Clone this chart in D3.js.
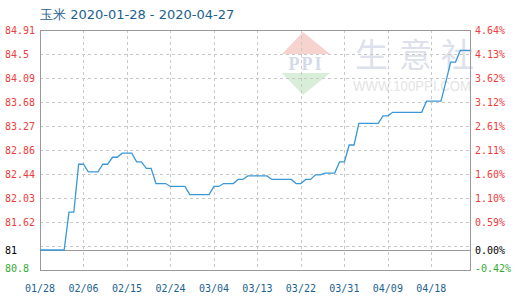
<!DOCTYPE html>
<html>
<head>
<meta charset="utf-8">
<script src="https://cdn.jsdelivr.net/npm/d3@7"></script>
<style>
  body { margin: 0; background: #fff; }
  svg { display: block; }
</style>
</head>
<body>
<script>
// chart data
var title = "玉米 2020-01-28 - 2020-04-27";
var xLabels = ["01/28", "02/06", "02/15", "02/24", "03/04", "03/13", "03/22", "03/31", "04/09", "04/18"];
var prices = [
    81, 81, 81, 81, 81, 81, 81.79, 81.79, 82.61, 82.61,
    82.48, 82.48, 82.48, 82.61, 82.61, 82.73, 82.73, 82.80, 82.80, 82.80,
    82.65, 82.65, 82.54, 82.54, 82.28, 82.28, 82.28, 82.23, 82.23, 82.23,
    82.23, 82.09, 82.09, 82.09, 82.09, 82.09, 82.23, 82.23, 82.28, 82.28,
    82.28, 82.35, 82.35, 82.41, 82.41, 82.41, 82.41, 82.41, 82.35, 82.35,
    82.35, 82.35, 82.35, 82.28, 82.28, 82.35, 82.35, 82.43, 82.43, 82.46,
    82.46, 82.46, 82.65, 82.65, 82.94, 82.94, 83.31, 83.31, 83.31, 83.31,
    83.31, 83.44, 83.44, 83.50, 83.50, 83.50, 83.50, 83.50, 83.50, 83.50,
    83.69, 83.69, 83.69, 83.69, 84.02, 84.36, 84.36, 84.56, 84.56, 84.56
];
var leftTicks = [84.91, 84.5, 84.09, 83.68, 83.27, 82.86, 82.44, 82.03, 81.62, 81, 80.8];
var rightTicks = ["4.64%", "4.13%", "3.62%", "3.12%", "2.61%", "2.11%", "1.60%", "1.10%", "0.59%", "0.00%", "-0.42%"];
var gridValues = [84.91, 84.5, 84.09, 83.68, 83.27, 82.86, 82.44, 82.03, 81.62, 81.21];
var baseValue = 81;

var width = 520,
    height = 300,
    plotLeft = 40, plotRight = 470, plotTop = 30, plotBottom = 270;

var svg = d3.select("body")
    .append("svg")
    .attr("width", width)
    .attr("height", height);

var x = d3.scaleLinear()
    .domain([0, prices.length - 1])
    .range([plotLeft, plotRight]);

// the axis is not linear below the grid: base value sits just under the last grid line
var y = d3.scaleLinear()
    .domain([80.8, 81, 81.21, 84.91])
    .range([plotBottom, 250, 246, plotTop]);

// watermark
var wm = svg.append("g").attr("class", "watermark");
wm.append("path")
    .attr("d", "M303,32 L330,54 L282,54 Z")
    .attr("fill", "#f6d3cf");
wm.append("path")
    .attr("d", "M282,73 L330,73 L303,95 Z")
    .attr("fill", "#d9eed9");
wm.append("text")
    .attr("x", 306).attr("y", 70)
    .attr("text-anchor", "middle")
    .attr("font-family", "Liberation Serif")
    .attr("font-weight", "bold")
    .attr("font-size", 18)
    .attr("letter-spacing", 2)
    .attr("fill", "#d3dbea")
    .text("PPI");
wm.append("text")
    .attr("x", "355 399 441").attr("y", 67)
    .attr("font-family", "Noto Sans CJK SC")
    .attr("font-size", 33)
    .attr("fill", "#dce1ec")
    .text("生意社");
wm.append("text")
    .attr("x", 353).attr("y", 91)
    .attr("font-family", "Liberation Sans")
    .attr("font-size", 15)
    .attr("textLength", 118)
    .attr("lengthAdjust", "spacingAndGlyphs")
    .attr("fill", "#e4e4e4")
    .text("WWW.100PPI.COM");

// grid lines
svg.selectAll(".hgrid")
    .data(gridValues)
    .enter()
    .append("line")
    .attr("class", "hgrid")
    .attr("x1", plotLeft).attr("x2", plotRight)
    .attr("y1", function(d){ return Math.round(y(d)) + 0.5; })
    .attr("y2", function(d){ return Math.round(y(d)) + 0.5; })
    .attr("stroke", "#c8c8c8")
    .attr("stroke-dasharray", "3,3");

svg.selectAll(".vgrid")
    .data(xLabels.slice(1))
    .enter()
    .append("line")
    .attr("class", "vgrid")
    .attr("x1", function(d, i){ return Math.round(x((i + 1) * 9)) + 0.5; })
    .attr("x2", function(d, i){ return Math.round(x((i + 1) * 9)) + 0.5; })
    .attr("y1", plotTop).attr("y2", plotBottom)
    .attr("stroke", "#c8c8c8")
    .attr("stroke-dasharray", "3,3");

// base line and frame
svg.append("line")
    .attr("x1", plotLeft).attr("x2", plotRight)
    .attr("y1", y(baseValue) + 0.5).attr("y2", y(baseValue) + 0.5)
    .attr("stroke", "#999");

svg.append("rect")
    .attr("x", plotLeft + 0.5).attr("y", plotTop + 0.5)
    .attr("width", plotRight - plotLeft).attr("height", plotBottom - plotTop)
    .attr("fill", "none")
    .attr("stroke", "#999");

// price line
var line = d3.line()
    .x(function(d, i){ return x(i); })
    .y(function(d){ return y(d); });

svg.append("path")
    .datum(prices)
    .attr("d", line)
    .attr("fill", "none")
    .attr("stroke", "#3a98d8")
    .attr("stroke-width", 1.3);

// axis labels
function tickColor(i) {
    if (i < 9) return "#f03c3c";
    if (i == 9) return "#000";
    return "#33aa33";
}

svg.selectAll(".ylabel")
    .data(leftTicks)
    .enter()
    .append("text")
    .attr("class", "ylabel")
    .attr("x", 5)
    .attr("y", function(d, i){ return y(d) + (i == 10 ? 2 : 4); })
    .attr("font-family", "DejaVu Sans Mono")
    .attr("font-size", 10)
    .attr("fill", function(d, i){ return tickColor(i); })
    .text(function(d){ return d; });

svg.selectAll(".rlabel")
    .data(rightTicks)
    .enter()
    .append("text")
    .attr("class", "rlabel")
    .attr("x", 475)
    .attr("y", function(d, i){ return y(leftTicks[i]) + (i == 10 ? 2 : 4); })
    .attr("font-family", "DejaVu Sans Mono")
    .attr("font-size", 10)
    .attr("fill", function(d, i){ return tickColor(i); })
    .text(function(d){ return d; });

svg.selectAll(".xlabel")
    .data(xLabels)
    .enter()
    .append("text")
    .attr("class", "xlabel")
    .attr("x", function(d, i){ return x(i * 9); })
    .attr("y", 292)
    .attr("text-anchor", "middle")
    .attr("font-family", "DejaVu Sans Mono")
    .attr("font-size", 10)
    .attr("fill", "#1d5f8f")
    .text(function(d){ return d; });

// title
svg.append("text")
    .attr("x", 40)
    .attr("y", 19)
    .attr("font-family", "DejaVu Sans")
    .attr("font-size", 13)
    .attr("fill", "#1d5f8f")
    .text(title);
</script>
</body>
</html>
